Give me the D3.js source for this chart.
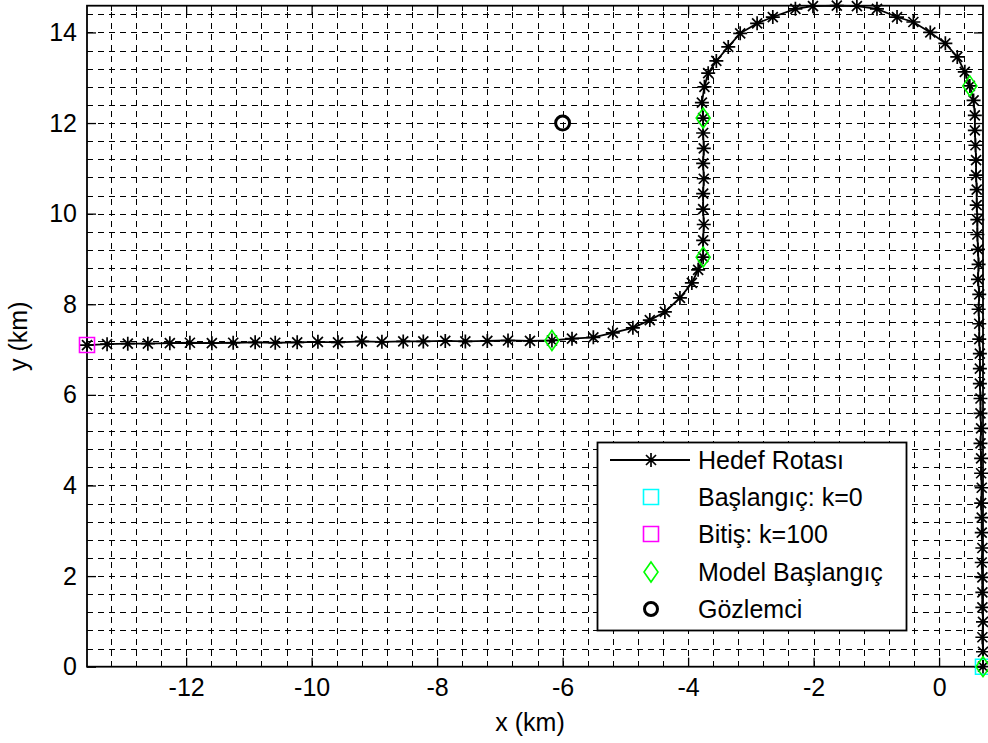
<!DOCTYPE html>
<html>
<head>
<meta charset="utf-8">
<script src="https://cdn.jsdelivr.net/npm/d3@7"></script>
<style>
  body { margin: 0; background: #fff; }
  text { font-family: "Liberation Sans", Arial, sans-serif; fill: #000; }
</style>
</head>
<body>
<div id="canvas"></div>
<script>
// target route, k = 0..100 (km)
const routeX = [
  0.70, 0.70, 0.69, 0.70, 0.69, 0.69, 0.69, 0.68, 0.69, 0.68,
  0.68, 0.67, 0.68, 0.67, 0.67, 0.66, 0.67, 0.66, 0.66, 0.65,
  0.65, 0.65, 0.64, 0.64, 0.63, 0.64, 0.62, 0.63, 0.62, 0.61,
  0.61, 0.60, 0.60, 0.59, 0.59, 0.58, 0.57, 0.57, 0.55, 0.49,
  0.41, 0.29, 0.10, -0.14, -0.41, -0.67, -0.99, -1.31, -1.63, -2.01,
  -2.29, -2.65, -2.90, -3.17, -3.36, -3.55, -3.68, -3.74, -3.78, -3.76,
  -3.76, -3.75, -3.76, -3.75, -3.76, -3.76, -3.75, -3.76, -3.76, -3.84,
  -3.94, -4.13, -4.37, -4.61, -4.88, -5.20, -5.51, -5.85, -6.17, -6.52,
  -6.87, -7.20, -7.55, -7.87, -8.22, -8.54, -8.88, -9.20, -9.58, -9.90,
  -10.23, -10.58, -10.90, -11.25, -11.59, -11.94, -12.26, -12.61, -12.93, -13.26, -13.58
];
const routeY = [
  0.00, 0.33, 0.65, 0.99, 1.31, 1.64, 1.97, 2.30, 2.62, 2.96,
  3.29, 3.61, 3.95, 4.27, 4.60, 4.93, 5.26, 5.59, 5.92, 6.25,
  6.58, 6.91, 7.23, 7.57, 7.89, 8.22, 8.55, 8.88, 9.21, 9.54,
  9.87, 10.19, 10.53, 10.85, 11.18, 11.51, 11.84, 12.17, 12.50, 12.82,
  13.13, 13.46, 13.76, 14.00, 14.23, 14.34, 14.52, 14.58, 14.59, 14.58,
  14.52, 14.34, 14.20, 13.98, 13.68, 13.37, 13.10, 12.80, 12.45, 12.11,
  11.78, 11.44, 11.11, 10.77, 10.44, 10.10, 9.76, 9.41, 9.04, 8.76,
  8.47, 8.14, 7.83, 7.65, 7.48, 7.37, 7.27, 7.24, 7.20, 7.19,
  7.20, 7.19, 7.18, 7.19, 7.18, 7.18, 7.17, 7.18, 7.16, 7.17,
  7.16, 7.15, 7.16, 7.15, 7.14, 7.15, 7.14, 7.13, 7.13, 7.12, 7.10
];
// k indices where a model starts
const modelStartK = [0, 39, 59, 68, 78];
// observer position
const observerX = [-6];
const observerY = [12];

const xTicks = [-12, -10, -8, -6, -4, -2, 0];
const yTicks = [0, 2, 4, 6, 8, 10, 12, 14];
const minorStep = 0.4;

const legendLabels = ["Hedef Rotası", "Başlangıç: k=0", "Bitiş: k=100", "Model Başlangıç", "Gözlemci"];

const W = 988, H = 743;
const plot = { left: 87, right: 983, top: 5.7, bottom: 666.7 };

let svg = d3.select("#canvas").append("svg")
  .attr("width", W).attr("height", H);

let route = routeX.map((x, i) => ({ x: x, y: routeY[i] }));
const xMin = d3.min(routeX), xMax = d3.max(routeX);
const yMin = d3.min(routeY), yMax = d3.max(routeY);

let xScale = d3.scaleLinear().domain([xMin, xMax]).range([plot.left, plot.right]);
let yScale = d3.scaleLinear().domain([yMin, yMax]).range([plot.bottom, plot.top]);

// minor grid positions (major ones included)
let xMinor = d3.range(Math.ceil(xMin / minorStep), Math.floor(xMax / minorStep) + 1).map(i => +(i * minorStep).toFixed(2));
let yMinor = d3.range(Math.ceil(yMin / minorStep), Math.floor(yMax / minorStep) + 1).map(i => +(i * minorStep).toFixed(2));

// grid
let grid = svg.append("g").attr("stroke", "#000").attr("stroke-width", 1)
  .attr("stroke-dasharray", "6,5").attr("shape-rendering", "crispEdges");
grid.selectAll(".gx").data(xMinor.filter(v => xScale(v) > plot.left + 1 && xScale(v) < plot.right - 1))
  .enter().append("line")
  .attr("x1", d => Math.round(xScale(d)) + 0.5).attr("x2", d => Math.round(xScale(d)) + 0.5)
  .attr("y1", plot.bottom).attr("y2", plot.top);
grid.selectAll(".gy").data(yMinor.filter(v => yScale(v) > plot.top + 1 && yScale(v) < plot.bottom - 1))
  .enter().append("line")
  .attr("y1", d => Math.round(yScale(d)) + 0.5).attr("y2", d => Math.round(yScale(d)) + 0.5)
  .attr("x1", plot.left).attr("x2", plot.right);

// axes (ticks inside, on all four sides)
function styleAxis(g) {
  g.select(".domain").remove();
  g.selectAll(".tick line").attr("stroke", "#000").attr("stroke-width", 1.3);
  g.selectAll("text").style("font-size", "25px").attr("fill", "#000");
}
const plainFormat = d => String(d);
svg.append("g").attr("transform", "translate(0," + plot.bottom + ")")
  .call(d3.axisBottom(xScale).tickValues(xTicks).tickSizeInner(-9).tickSizeOuter(0).tickPadding(12).tickFormat(plainFormat))
  .call(styleAxis);
svg.append("g").attr("transform", "translate(0," + plot.top + ")")
  .call(d3.axisTop(xScale).tickValues(xTicks).tickSizeInner(-9).tickSizeOuter(0).tickFormat(""))
  .call(styleAxis);
svg.append("g").attr("transform", "translate(" + plot.left + ",0)")
  .call(d3.axisLeft(yScale).tickValues(yTicks).tickSizeInner(-9).tickSizeOuter(0).tickPadding(10).tickFormat(plainFormat))
  .call(styleAxis);
svg.append("g").attr("transform", "translate(" + plot.right + ",0)")
  .call(d3.axisRight(yScale).tickValues(yTicks).tickSizeInner(-9).tickSizeOuter(0).tickFormat(""))
  .call(styleAxis);

// minor ticks
let mt = svg.append("g").attr("stroke", "#000").attr("stroke-width", 1).attr("shape-rendering", "crispEdges");
xMinor.filter(v => !xTicks.includes(v)).forEach(v => {
  let px = Math.round(xScale(v)) + 0.5;
  mt.append("line").attr("x1", px).attr("x2", px).attr("y1", plot.bottom).attr("y2", plot.bottom - 5);
  mt.append("line").attr("x1", px).attr("x2", px).attr("y1", plot.top).attr("y2", plot.top + 5);
});
yMinor.filter(v => !yTicks.includes(v)).forEach(v => {
  let py = Math.round(yScale(v)) + 0.5;
  mt.append("line").attr("y1", py).attr("y2", py).attr("x1", plot.left).attr("x2", plot.left + 5);
  mt.append("line").attr("y1", py).attr("y2", py).attr("x1", plot.right).attr("x2", plot.right - 5);
});

// box
svg.append("rect")
  .attr("x", plot.left).attr("y", plot.top)
  .attr("width", plot.right - plot.left).attr("height", plot.bottom - plot.top)
  .attr("fill", "none").attr("stroke", "#000").attr("stroke-width", 1.8);

// axis labels
svg.append("text").attr("x", (plot.left + plot.right) / 2 - 5).attr("y", 731)
  .attr("text-anchor", "middle").style("font-size", "25px").text("x (km)");
svg.append("text").attr("transform", "translate(27," + ((plot.top + plot.bottom) / 2) + ") rotate(-90)")
  .attr("text-anchor", "middle").style("font-size", "25px").text("y (km)");

// marker shapes
const starPath = "M-7,0H7M0,-7V7M-5,-5L5,5M-5,5L5,-5";
const squarePath = "M-7.5,-7.5H7.5V7.5H-7.5Z";
const diamondPath = "M0,-10L7,0L0,10L-7,0Z";

// route line + asterisks
svg.append("path").datum(route)
  .attr("fill", "none").attr("stroke", "#000").attr("stroke-width", 1.8)
  .attr("d", d3.line().x(d => xScale(d.x)).y(d => yScale(d.y)));
svg.selectAll(".star").data(route).enter().append("path")
  .attr("class", "star")
  .attr("transform", d => "translate(" + xScale(d.x) + "," + yScale(d.y) + ")")
  .attr("d", starPath).attr("stroke", "#000").attr("stroke-width", 1.7).attr("fill", "none");

// start and end
svg.append("path").attr("d", squarePath)
  .attr("transform", "translate(" + xScale(route[0].x) + "," + yScale(route[0].y) + ")")
  .attr("fill", "none").attr("stroke", "#00ffff").attr("stroke-width", 1.6);
svg.append("path").attr("d", squarePath)
  .attr("transform", "translate(" + xScale(route[100].x) + "," + yScale(route[100].y) + ")")
  .attr("fill", "none").attr("stroke", "#ff00ff").attr("stroke-width", 1.6);

// model starts
svg.selectAll(".model").data(modelStartK.map(k => route[k])).enter().append("path")
  .attr("class", "model")
  .attr("transform", d => "translate(" + xScale(d.x) + "," + yScale(d.y) + ")")
  .attr("d", diamondPath).attr("fill", "none").attr("stroke", "#00ff00").attr("stroke-width", 1.6);

// observer
svg.selectAll(".obs").data(observerX).enter().append("circle")
  .attr("cx", d => xScale(d)).attr("cy", (d, i) => yScale(observerY[i]))
  .attr("r", 7).attr("fill", "none").attr("stroke", "#000").attr("stroke-width", 3);

// legend
let lg = svg.append("g");
lg.append("rect").attr("x", 597.5).attr("y", 442.5).attr("width", 309).attr("height", 188)
  .attr("fill", "#fff").attr("stroke", "#000").attr("stroke-width", 1.8);
const rowY = [460, 497, 534, 572, 609];
const symX = 651;
lg.append("line").attr("x1", 610).attr("x2", 690).attr("y1", rowY[0]).attr("y2", rowY[0])
  .attr("stroke", "#000").attr("stroke-width", 1.8);
lg.append("path").attr("d", starPath).attr("transform", "translate(" + symX + "," + rowY[0] + ")")
  .attr("stroke", "#000").attr("stroke-width", 1.7);
lg.append("path").attr("d", squarePath).attr("transform", "translate(" + symX + "," + rowY[1] + ")")
  .attr("fill", "none").attr("stroke", "#00ffff").attr("stroke-width", 1.6);
lg.append("path").attr("d", squarePath).attr("transform", "translate(" + symX + "," + rowY[2] + ")")
  .attr("fill", "none").attr("stroke", "#ff00ff").attr("stroke-width", 1.6);
lg.append("path").attr("d", diamondPath).attr("transform", "translate(" + symX + "," + rowY[3] + ")")
  .attr("fill", "none").attr("stroke", "#00ff00").attr("stroke-width", 1.6);
lg.append("circle").attr("cx", symX).attr("cy", rowY[4]).attr("r", 6.5)
  .attr("fill", "none").attr("stroke", "#000").attr("stroke-width", 3);
lg.selectAll(".lt").data(legendLabels).enter().append("text")
  .attr("x", 698).attr("y", (d, i) => rowY[i]).attr("dy", "0.35em")
  .style("font-size", "25px").text(d => d);
</script>
</body>
</html>
